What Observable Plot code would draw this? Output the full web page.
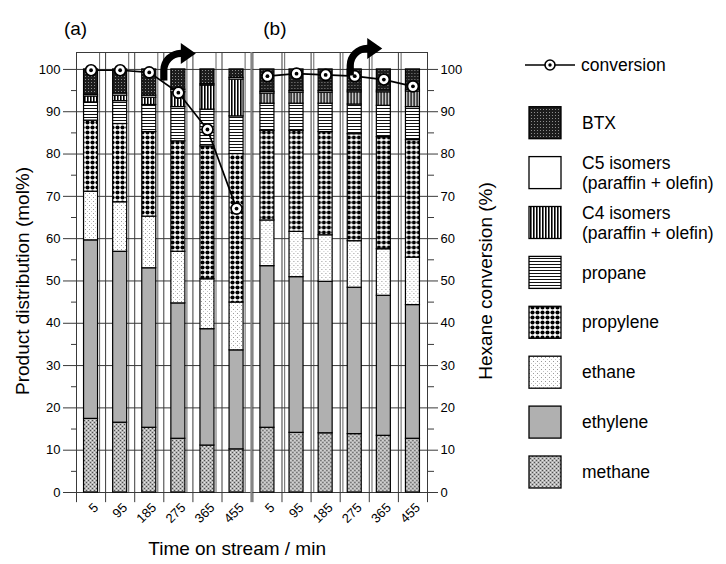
<!DOCTYPE html>
<html>
<head>
<meta charset="utf-8">
<script src="https://cdn.jsdelivr.net/npm/d3@7"></script>
<script src="https://cdn.jsdelivr.net/npm/@observablehq/plot@0.6"></script>
<style>
  body { margin: 0; background: #fff; font-family: "Liberation Sans", Arial, Helvetica, sans-serif; }
  #wrap { position: relative; width: 726px; height: 564px; overflow: hidden; }
  #chart { position: absolute; left: 0; top: 0; }
  #legend { position: absolute; left: 500px; top: 0; }
</style>
</head>
<body>
<!-- fill patterns shared by the bars and the legend swatches -->
<svg width="0" height="0" style="position:absolute">
  <defs>
    <pattern id="pat-methane" width="4" height="4" patternUnits="userSpaceOnUse">
      <rect width="4" height="4" fill="#b4b4b4"/>
      <rect x="0" y="0" width="1" height="1" fill="#505050"/>
      <rect x="2" y="2" width="1" height="1" fill="#505050"/>
      <rect x="2" y="0" width="1" height="1" fill="#e6e6e6"/>
      <rect x="0" y="2" width="1" height="1" fill="#e6e6e6"/>
    </pattern>
    <pattern id="pat-ethylene" width="4" height="4" patternUnits="userSpaceOnUse">
      <rect width="4" height="4" fill="#b0b0b0"/>
    </pattern>
    <pattern id="pat-ethane" width="4" height="4" patternUnits="userSpaceOnUse">
      <rect width="4" height="4" fill="#fff"/>
      <rect x="1" y="1" width="1" height="1" fill="#999"/>
      <rect x="3" y="3" width="1" height="1" fill="#c4c4c4"/>
    </pattern>
    <pattern id="pat-propylene" width="5" height="5" patternUnits="userSpaceOnUse">
      <rect width="5" height="5" fill="#fff"/>
      <circle cx="2.5" cy="2.5" r="2.1" fill="#000"/>
    </pattern>
    <pattern id="pat-propane" width="3" height="3" patternUnits="userSpaceOnUse">
      <rect width="3" height="3" fill="#fff"/>
      <rect x="0" y="0" width="3" height="1" fill="#111"/>
    </pattern>
    <pattern id="pat-c4" width="3" height="3" patternUnits="userSpaceOnUse">
      <rect width="3" height="3" fill="#fff"/>
      <rect x="0" y="0" width="1.6" height="3" fill="#000"/>
    </pattern>
    <pattern id="pat-c5" width="4" height="4" patternUnits="userSpaceOnUse">
      <rect width="4" height="4" fill="#fff"/>
    </pattern>
    <pattern id="pat-btx" width="3" height="3" patternUnits="userSpaceOnUse">
      <rect width="3" height="3" fill="#1c1c1c"/>
      <rect x="1" y="1" width="1" height="1" fill="#8c8c8c"/>
    </pattern>
  </defs>
</svg>

<div id="wrap">
  <div id="chart"></div>
  <svg id="legend" width="226" height="564"></svg>
</div>

<script>
// ---- data -------------------------------------------------------------
const times = ["5", "95", "185", "275", "365", "455"];          // time on stream, min
const panels = ["(a)", "(b)"];
const components = ["methane", "ethylene", "ethane", "propylene", "propane",
                    "C4 isomers", "C5 isomers", "BTX"];          // bottom of stack first
const patternIds = ["pat-methane", "pat-ethylene", "pat-ethane", "pat-propylene",
                    "pat-propane", "pat-c4", "pat-c5", "pat-btx"];

// product distribution (mol%), panel (a)
const methaneA   = [17.4, 16.5, 15.3, 12.7, 11.1, 10.2];
const ethyleneA  = [42.2, 40.4, 37.7, 32.0, 27.5, 23.4];
const ethaneA    = [11.5, 11.7, 12.2, 12.2, 11.8, 11.3];
const propyleneA = [16.8, 18.5, 20.0, 26.1, 31.4, 35.1];
const propaneA   = [4.3, 5.4, 6.4, 8.1, 8.7, 8.9];
const c4A        = [1.4, 1.3, 1.7, 3.5, 5.7, 8.7];
const c5A        = [0.4, 0.5, 0.5, 0.6, 0.3, 0.4];
const btxA       = [6.0, 5.7, 6.2, 4.8, 3.5, 2.0];

// product distribution (mol%), panel (b)
const methaneB   = [15.3, 14.1, 14.0, 13.8, 13.4, 12.7];
const ethyleneB  = [38.2, 36.8, 35.8, 34.6, 33.1, 31.6];
const ethaneB    = [10.8, 10.7, 11.0, 11.0, 11.0, 11.2];
const propyleneB = [21.2, 23.9, 24.4, 25.3, 26.5, 27.8];
const propaneB   = [6.4, 6.4, 6.7, 7.0, 7.4, 7.8];
const c4B        = [2.4, 2.6, 2.6, 2.9, 3.2, 3.7];
const c5B        = [0.4, 0.4, 0.4, 0.4, 0.4, 0.4];
const btxB       = [5.3, 5.1, 5.1, 5.0, 5.0, 4.8];

// hexane conversion (%)
const conversionA = [99.8, 99.8, 99.3, 94.5, 85.8, 67.1];
const conversionB = [98.4, 99.0, 98.7, 98.4, 97.6, 96.0];

const yTicks = [0, 10, 20, 30, 40, 50, 60, 70, 80, 90, 100];
const yMinorTicks = [5, 15, 25, 35, 45, 55, 65, 75, 85, 95];

const legendLabels = {
  "BTX": ["BTX"],
  "C5 isomers": ["C5 isomers", "(paraffin + olefin)"],
  "C4 isomers": ["C4 isomers", "(paraffin + olefin)"],
  "propane": ["propane"],
  "propylene": ["propylene"],
  "ethane": ["ethane"],
  "ethylene": ["ethylene"],
  "methane": ["methane"]
};

// ---- tables built from the arrays ---------------------------------------
const seriesA = [methaneA, ethyleneA, ethaneA, propyleneA, propaneA, c4A, c5A, btxA];
const seriesB = [methaneB, ethyleneB, ethaneB, propyleneB, propaneB, c4B, c5B, btxB];
const rows = [];
[seriesA, seriesB].forEach((series, k) => {
  components.forEach((c, j) => {
    times.forEach((t, i) => rows.push({panel: panels[k], time: t, component: c, value: series[j][i]}));
  });
});
const conv = [];
[conversionA, conversionB].forEach((vals, k) =>
  times.forEach((t, i) => conv.push({panel: panels[k], time: t, value: vals[i]})));

const fontFamily = '"Liberation Sans", Arial, Helvetica, sans-serif';
const gridColor = "#3a3a3a";
const yTop = 104;

// thick bent arrow glyph: shaft rising, turning right into a filled head
const turnArrow = {
  draw(ctx) {
    const w = 3.6, R = 17, h = 10.5, tip = 32;
    ctx.moveTo(-w, 0);
    ctx.lineTo(-w, -10);
    ctx.arc(R, -10, R + w, Math.PI, 1.5 * Math.PI, false);
    ctx.lineTo(R, -10 - R - h);
    ctx.lineTo(tip, -10 - R);
    ctx.lineTo(R, -10 - R + h);
    ctx.lineTo(R, -10 - R + w);
    ctx.arc(R, -10, R - w, 1.5 * Math.PI, Math.PI, true);
    ctx.lineTo(w, 0);
    ctx.closePath();
  }
};

function drawChart(bw) {
  return Plot.plot({
    width: 500,
    height: 564,
    marginLeft: 76,
    marginRight: 73,
    marginTop: 52,
    marginBottom: 72,
    style: {fontFamily, fontSize: "13px", color: "#000", background: "transparent", overflow: "visible"},
    fx: {domain: panels, padding: 0.01, round: false, axis: null},
    x: {domain: times, padding: 0, round: false, axis: null},
    y: {domain: [0, yTop], axis: null},
    color: {domain: components, range: patternIds.map((id) => `url(#${id})`)},
    marks: [
      // horizontal grid and top border
      Plot.ruleY(yTicks, {stroke: gridColor, strokeWidth: 1}),
      Plot.ruleY([yTop], {stroke: gridColor, strokeWidth: 1}),
      // category boundaries, continuing below the axis as tick marks
      Plot.ruleX(times, {x: (d) => d, dx: -bw / 2, y1: -2.4, y2: yTop, stroke: gridColor, strokeWidth: 1}),
      Plot.ruleX(times.slice(-1), {x: (d) => d, dx: bw / 2, y1: -2.4, y2: yTop, stroke: gridColor, strokeWidth: 1}),
      // secondary set of vertical grid lines
      Plot.ruleX(times, {x: (d) => d, fx: () => "(a)", dx: bw / 2 - 6, y1: 0, y2: yTop, stroke: gridColor, strokeWidth: 0.8}),
      Plot.ruleX(times.slice(1), {x: (d) => d, fx: () => "(b)", dx: -bw / 2 + 2.7, y1: 0, y2: yTop, stroke: gridColor, strokeWidth: 0.8}),

      // stacked product distribution
      Plot.barY(rows, Plot.stackY({
        x: "time", y: "value", fx: "panel", fill: "component",
        stroke: "#000", strokeWidth: 1.2, insetLeft: bw / 2 - 7, insetRight: bw / 2 - 7
      })),

      // hexane conversion
      Plot.line(conv, {x: "time", y: "value", fx: "panel", stroke: "#000", strokeWidth: 1.7}),
      Plot.dot(conv, {x: "time", y: "value", fx: "panel", r: 5.5, fill: "#fff", stroke: "#000", strokeWidth: 1.7}),
      Plot.dot(conv, {x: "time", y: "value", fx: "panel", r: 1.9, fill: "#000"}),

      // bent arrows
      Plot.dot([{panel: "(a)", time: "275", y: 97.4}], {x: "time", y: "y", fx: "panel", symbol: turnArrow, r: 10, fill: "#000", stroke: null, dx: -bw / 2}),
      Plot.dot([{panel: "(b)", time: "275", y: 98.1}], {x: "time", y: "y", fx: "panel", symbol: turnArrow, r: 10, fill: "#000", stroke: null, dx: -4.5, dy: -2}),

      // axes
      Plot.axisY(yTicks, {anchor: "left", tickSize: 13, tickPadding: 3, fontSize: 13, label: null, stroke: gridColor}),
      Plot.axisY(yMinorTicks, {anchor: "left", tickSize: 5, tickFormat: () => "", label: null, stroke: gridColor}),
      Plot.axisY(yTicks, {anchor: "right", tickSize: 10, tickPadding: 3, fontSize: 13, label: null, stroke: gridColor}),
      Plot.axisY(yMinorTicks, {anchor: "right", tickSize: 6, tickFormat: () => "", label: null, stroke: gridColor}),
      Plot.axisX(times, {anchor: "bottom", tickSize: 0, tickPadding: 13, tickRotate: -45, dx: 5, fontSize: 13, label: null}),

      // panel tags and axis titles
      Plot.text(["(a)"], {fx: (d) => d, text: (d) => d, frameAnchor: "top-left", dx: -1, dy: -31, fontSize: 19, textAnchor: "middle"}),
      Plot.text(["(b)"], {fx: (d) => d, text: (d) => d, frameAnchor: "top-left", dx: 22, dy: -31, fontSize: 19, textAnchor: "middle"}),
      Plot.text(["Product distribution (mol%)"], {fx: () => "(a)", text: (d) => d, frameAnchor: "left", y: () => 50, dx: -54, rotate: -90, fontSize: 19, textAnchor: "middle"}),
      Plot.text(["Hexane conversion (%)"], {fx: () => "(b)", text: (d) => d, frameAnchor: "right", y: () => 50, dx: 58, rotate: -90, fontSize: 19, textAnchor: "middle"}),
      Plot.text(["Time on stream / min"], {fx: () => "(a)", text: (d) => d, frameAnchor: "bottom-right", dx: -14, dy: 62, fontSize: 19, textAnchor: "middle"})
    ]
  });
}

// first pass gives the exact category width, second pass uses it for offsets
let chart = drawChart(29.1);
const bandwidth = chart.scale("x").bandwidth;
chart = drawChart(bandwidth);
document.getElementById("chart").append(chart);

// ---- legend -------------------------------------------------------------
const legend = d3.select("#legend")
  .style("font-family", fontFamily)
  .style("font-size", "17.5px");

legend.append("line").attr("x1", 25).attr("x2", 75).attr("y1", 65).attr("y2", 65)
  .attr("stroke", "#000").attr("stroke-width", 1.7);
legend.append("circle").attr("cx", 50).attr("cy", 65).attr("r", 5)
  .attr("fill", "#fff").attr("stroke", "#000").attr("stroke-width", 1.6);
legend.append("circle").attr("cx", 50).attr("cy", 65).attr("r", 1.7).attr("fill", "#000");
legend.append("text").attr("x", 81).attr("y", 65).attr("dy", "0.35em").text("conversion");

components.slice().reverse().forEach((c, i) => {
  const y0 = 106.7 + 49.9 * i;
  legend.append("rect").attr("x", 29).attr("y", y0).attr("width", 32).attr("height", 32)
    .attr("fill", `url(#${patternIds[components.indexOf(c)]})`)
    .attr("stroke", "#000").attr("stroke-width", 1.3);
  const lines = legendLabels[c];
  const cy = y0 + 16;
  lines.forEach((line, k) => {
    const off = lines.length === 1 ? 0 : (k === 0 ? -10 : 10);
    legend.append("text").attr("x", 82).attr("y", cy + off).attr("dy", "0.35em").text(line);
  });
});
</script>
</body>
</html>
